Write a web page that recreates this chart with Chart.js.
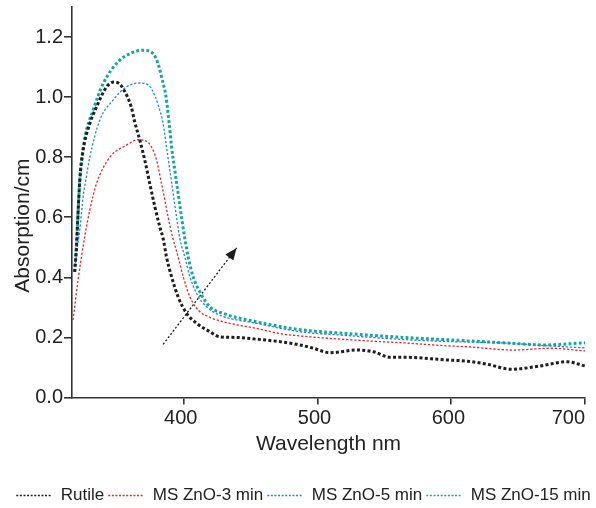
<!DOCTYPE html>
<html>
<head>
<meta charset="utf-8">
<script src="https://cdn.jsdelivr.net/npm/chart.js@4/dist/chart.umd.min.js"></script>
<style>
html,body{margin:0;padding:0;background:#fff;}
#wrap{width:596px;height:508px;position:relative;}
</style>
</head>
<body>
<div id="wrap"><canvas id="c" width="596" height="508"></canvas></div>
<script>
// ---- data ----
const seriesNames = ["Rutile", "MS ZnO-3 min", "MS ZnO-5 min", "MS ZnO-15 min"];

const rutileWl = [318.7,320,321.2,322.5,325,330,335,342.5,348,352,355,361,363.6,367.4,371.1,374.8,378.6,382.3,384.8,387.3,391.1,396,402.3,409.8,419.7,427.2,439.7,454.6,472,487,497,509.5,529.4,542,554.3,564.3,596.8,611.7,626.7,645,666.6,686.5,700];
const rutileVal = [0.418,0.50,0.612,0.723,0.823,0.912,0.967,1.034,1.05,1.045,1.028,0.967,0.917,0.856,0.79,0.712,0.635,0.568,0.529,0.468,0.402,0.335,0.28,0.247,0.219,0.202,0.2,0.194,0.186,0.175,0.164,0.149,0.158,0.152,0.134,0.134,0.125,0.121,0.111,0.094,0.105,0.119,0.105];

const zno3Wl = [317.5,321.2,326.2,330,335,345,357.4,366,371,376.1,379.9,383.6,386.1,388.5,391.8,396,399.8,404.8,411,419.7,434.7,454.6,472,487,547,564.3,597,611.7,646.6,674,700];
const zno3Val = [0.258,0.39,0.535,0.624,0.712,0.80,0.84,0.858,0.856,0.834,0.79,0.712,0.657,0.601,0.535,0.468,0.402,0.335,0.291,0.267,0.247,0.23,0.213,0.205,0.186,0.182,0.172,0.169,0.158,0.164,0.155];

const zno5Wl = [318.7,320,322.5,325,327,330,337.4,347.4,357.4,367.4,374,379,381,384.8,387.3,389.8,392.3,394.8,397.3,401,404.8,409.8,417.2,427.2,454.6,487,520,564.3,600,636.6,669,700];
const zno5Val = [0.42,0.48,0.557,0.668,0.723,0.80,0.923,0.99,1.034,1.047,1.04,1.0,0.975,0.912,0.834,0.757,0.679,0.601,0.529,0.468,0.402,0.346,0.302,0.274,0.247,0.219,0.207,0.193,0.186,0.182,0.173,0.165];

const zno15Wl = [318.7,320,321.2,322.5,326,332.4,340,351,360,369.8,377.3,381,384,387,389.3,391.1,393.5,396,398.5,401,403.5,407.2,412.2,419.7,429.7,454.6,487,522,564.3,611.7,647,669,700];
const zno15Val = [0.418,0.50,0.612,0.723,0.856,0.956,1.045,1.117,1.145,1.156,1.145,1.111,1.06,1.0,0.912,0.834,0.757,0.679,0.601,0.529,0.468,0.402,0.352,0.302,0.28,0.252,0.226,0.213,0.2,0.189,0.18,0.175,0.182];

// trend arrow (tail -> head), in data units
const arrowWl = [384.8, 439.7];
const arrowVal = [0.177, 0.498];

const xTicks = [400, 500, 600, 700];
const yTicks = [0.0, 0.2, 0.4, 0.6, 0.8, 1.0, 1.2];

// ---- build ----
const pts = (xs, ys) => xs.map((x, i) => ({x: x, y: ys[i]}));
const colors = ["#1e1e1e", "#e8242c", "#1f8bd3", "#14a89c"];

const arrowHead = {
  id: 'arrowHead',
  afterDatasetsDraw(chart) {
    const meta = chart.getDatasetMeta(4);
    if (!meta || !meta.data || meta.data.length < 2) return;
    const p0 = meta.data[0], p1 = meta.data[1];
    const ang = Math.atan2(p1.y - p0.y, p1.x - p0.x);
    const ctx = chart.ctx;
    const L = 12, W = 5;
    ctx.save();
    ctx.fillStyle = "#1e1e1e";
    ctx.translate(p1.x, p1.y);
    ctx.rotate(ang);
    ctx.beginPath();
    ctx.moveTo(0, 0);
    ctx.lineTo(-L, -W);
    ctx.lineTo(-L, W);
    ctx.closePath();
    ctx.fill();
    ctx.restore();
  }
};

const FONT = "'Liberation Sans', Arial, Helvetica, sans-serif";

new Chart(document.getElementById('c'), {
  type: 'line',
  data: {
    datasets: [
      {label: seriesNames[0], data: pts(rutileWl, rutileVal), borderColor: colors[0], backgroundColor: colors[0], borderWidth: 3, borderDash: [3, 2.3]},
      {label: seriesNames[1], data: pts(zno3Wl, zno3Val), borderColor: colors[1], backgroundColor: colors[1], borderWidth: 1.3, borderDash: [2.3, 1.8]},
      {label: seriesNames[2], data: pts(zno5Wl, zno5Val), borderColor: colors[2], backgroundColor: colors[2], borderWidth: 1.3, borderDash: [2.3, 1.8]},
      {label: seriesNames[3], data: pts(zno15Wl, zno15Val), borderColor: colors[3], backgroundColor: colors[3], borderWidth: 3, borderDash: [2.8, 2.3]},
      {label: 'arrow', data: pts(arrowWl, arrowVal), borderColor: "#1e1e1e", borderWidth: 1.3, borderDash: [2, 2], cubicInterpolationMode: 'default', tension: 0}
    ]
  },
  options: {
    responsive: false,
    animation: false,
    elements: {
      point: {radius: 0, hoverRadius: 0},
      line: {cubicInterpolationMode: 'monotone', fill: false, borderCapStyle: 'butt'}
    },
    layout: {padding: {left: 11, right: 0, top: 7, bottom: -6}},
    plugins: {
      tooltip: {enabled: false},
      legend: {
        display: true,
        position: 'bottom',
        align: 'center',
        labels: {
          filter: (item) => item.datasetIndex < 4,
          usePointStyle: true,
          pointStyle: 'line',
          pointStyleWidth: 36,
          boxHeight: 10,
          padding: 4,
          color: '#222',
          font: {family: FONT, size: 17, lineHeight: 1},
          generateLabels(chart) {
            const items = Chart.defaults.plugins.legend.labels.generateLabels(chart);
            items.forEach(it => {
              const c = colors[it.datasetIndex] || '#1e1e1e';
              it.lineWidth = 1.5;
              it.lineDash = [2, 1.6];
              it.pointStyle = 'line';
              it.strokeStyle = c;
              it.fillStyle = c;
            });
            return items;
          }
        }
      }
    },
    scales: {
      x: {
        type: 'linear',
        min: 316.7,
        max: 700,
        afterBuildTicks: (s) => { s.ticks = xTicks.map(v => ({value: v})); },
        afterFit: (s) => { s.height = 85.5; s.paddingLeft = 0; s.paddingRight = 11; },
        border: {display: true, color: '#333', width: 1.6},
        grid: {display: true, drawOnChartArea: false, drawTicks: true, tickLength: 7, color: '#333', lineWidth: 1.6},
        ticks: {color: '#222', font: {family: FONT, size: 20}, padding: 2, maxRotation: 0,
                callback: (v) => v === 700 ? '700      ' : String(v) + ' '},
        title: {display: true, text: 'Wavelength nm', color: '#222', font: {family: FONT, size: 21}, padding: {top: 2, bottom: 26}}
      },
      y: {
        type: 'linear',
        min: 0,
        max: 1.3,
        afterBuildTicks: (s) => { s.ticks = yTicks.map(v => ({value: v})); },
        afterFit: (s) => { s.width = 61; s.paddingTop = 0; s.paddingBottom = 0; },
        border: {display: true, color: '#333', width: 1.6},
        grid: {display: true, drawOnChartArea: false, drawTicks: true, tickLength: 8, color: '#333', lineWidth: 1.6},
        ticks: {color: '#222', font: {family: FONT, size: 20}, padding: 1, callback: (v) => Number(v).toFixed(1)},
        title: {display: true, text: 'Absorption/cm        ', color: '#222', font: {family: FONT, size: 21}, padding: {top: 0, bottom: 0}}
      }
    }
  },
  plugins: [arrowHead]
});
</script>
</body>
</html>
